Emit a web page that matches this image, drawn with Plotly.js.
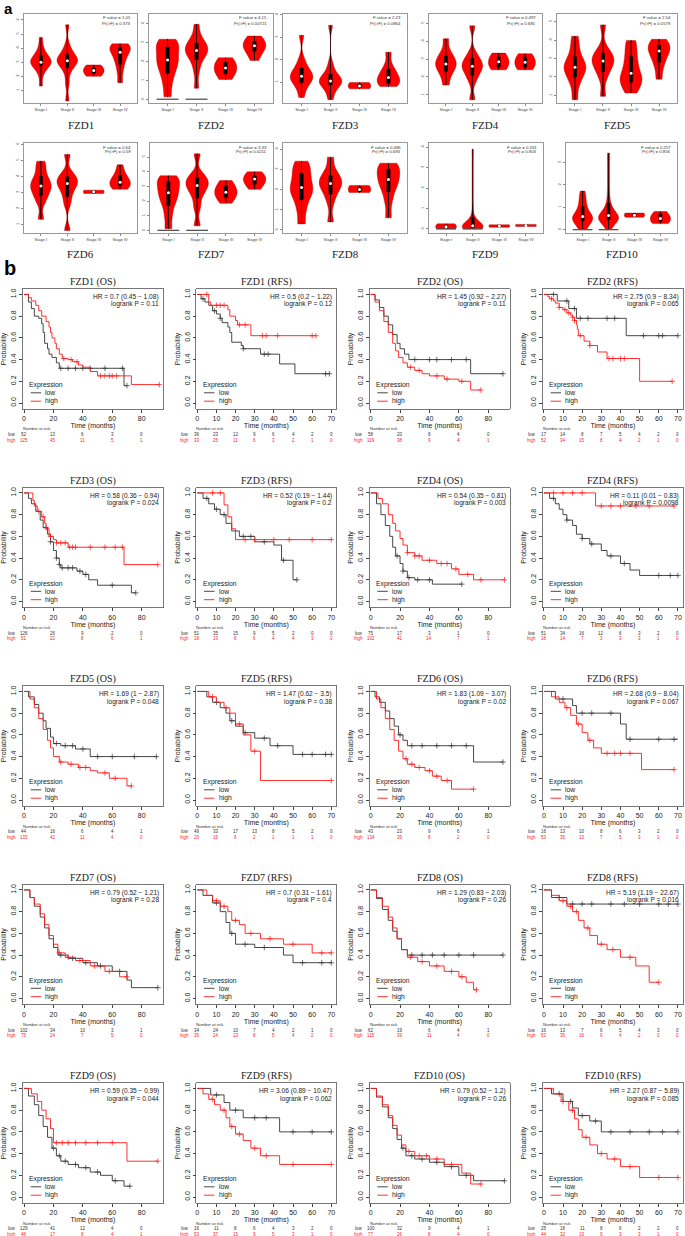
<!DOCTYPE html>
<html><head><meta charset="utf-8">
<script src="https://cdn.plot.ly/plotly-3.0.1.min.js"></script>
<style>html,body{margin:0;padding:0;background:#fff}#chart{width:685px;height:1236px}</style>
</head><body><div id="chart"></div>
<script>
// ---------------- Panel a: violin data ----------------
const stageLabels = ['Stage I','Stage II','Stage III','Stage IV'];
const vioGenes = ['FZD1','FZD2','FZD3','FZD4','FZD5','FZD6','FZD7','FZD8','FZD9','FZD10'];
const vioF = ['1.05','4.15','2.23','0.497','2.54','0.64','3.33','0.486','0.331','0.257'];
const vioP = ['0.373','0.00721','0.0864','0.685','0.0579','0.59','0.0211','0.693','0.803','0.856'];
const vioTicks = [[1,2,3,4,5,6],[0,1,2,3,4],[1,2,3,4],[1,2,3,4,5],[1,2,3,4,5],[1,2,3,4,5,6],[0,1,2,3,4,5],[0,1,2,3,4],[0,1,2,3,4],[0,1,2,3]];
const vioZeroStages = [[],[1,2],[],[],[],[],[1,2],[],[1,2],[1,2]];
const fzd1Vio = [[1.3,2.2,2.6,2.8,2.9,3.0,3.0,3.1,3.2,3.4,3.6,4.0,4.76],[0.25,1.5,2.3,2.7,2.9,3.0,3.1,3.2,3.3,3.5,3.7,4.2,5.65],[2.0,2.2,2.35,2.45,2.6,2.8],[1.54,2.4,3.0,3.3,3.7,3.9,4.0,4.15,4.3]];
const fzd2Vio = [[0.13,0.8,1.3,1.6,1.9,2.08,2.3,2.6,2.83,3.0,3.18],[0.58,1.5,2.05,2.3,2.5,2.58,2.7,2.85,3.0,3.3,3.97],[1.05,1.3,1.5,1.65,1.8,2.0,2.2],[2.05,2.5,2.7,2.83,2.95,3.1,3.35]];
const fzd3Vio = [[0.32,0.75,0.94,1.1,1.2,1.26,1.35,1.5,1.67,2.0,3.08],[0.22,0.6,0.85,0.95,1.0,1.05,1.12,1.25,1.4,1.8,3.53],[0.7,0.78,0.83,0.88,0.98],[0.8,0.9,1.0,1.15,1.26,1.45,1.7,2.33]];
const fzd4Vio = [[1.55,2.1,2.4,2.6,2.73,2.9,3.1,3.4,4.13],[0.73,1.8,2.2,2.45,2.6,2.75,2.95,3.3,4.85],[2.4,2.6,2.85,3.05,3.33],[2.4,2.6,2.82,3.05,3.3]];
const fzd5Vio = [[0.77,1.6,2.0,2.3,2.46,2.6,2.8,3.1,3.6,4.2],[0.95,2.0,2.4,2.7,2.86,3.0,3.2,3.5,4.82],[1.13,1.5,1.8,1.93,2.2,2.6,3.0,3.5,3.98],[1.88,2.6,3.0,3.3,3.5,3.65,3.8,4.04]];
const fzd6Vio = [[1.32,2.4,2.8,3.1,3.31,3.5,3.7,4.0,4.5,4.95],[0.62,2.3,2.9,3.3,3.56,3.7,3.9,4.2,5.37],[2.93,3.0,3.07,3.14],[3.2,3.35,3.5,3.56,3.7,3.9,4.2,4.72]];
const fzd7Vio = [[0.11,1.0,1.7,2.1,2.43,2.7,3.0,3.3,3.5,3.73],[0.31,1.6,2.4,2.8,3.06,3.3,3.5,3.8,5.22],[1.85,2.2,2.45,2.6,2.8,3.1,3.4],[2.8,3.1,3.3,3.5,3.6,3.75,4.0]];
const fzd8Vio = [[0.3,1.0,1.5,1.8,2.0,2.2,2.5,2.8,3.1,3.4],[0.4,1.4,1.9,2.1,2.3,2.45,2.6,2.9,3.6],[1.85,1.95,2.05,2.2],[0.6,1.4,1.9,2.2,2.4,2.6,2.8,3.0,3.2,3.3]];
const fzd9Vio = [[0.0,0.04,0.07,0.09,0.1,0.12,0.15,0.2,0.25],[0,0,0.01,0.02,0.03,0.04,0.05,0.05,0.06,0.07,0.08,0.08,0.09,0.1,0.1,0.11,0.12,0.13,0.14,0.15,0.16,0.18,0.2,0.22,0.25,0.28,0.32,0.38,0.45,0.6,0.8,1.2,1.6,2.0,2.4,2.8,3.2,3.6,3.9],[0.08,0.11,0.14,0.17,0.2],[0.12,0.15,0.17,0.2,0.22]];
const fzd10Vio = [[0.0,0.15,0.25,0.35,0.42,0.48,0.52,0.56,0.62,0.7,0.8,0.95,1.1,1.3,1.5,1.73],[0.0,0.1,0.2,0.25,0.3,0.33,0.36,0.4,0.43,0.46,0.48,0.5,0.52,0.54,0.56,0.58,0.6,0.62,0.65,0.68,0.72,0.76,0.8,0.86,0.92,1.0,1.1,1.25,1.45,1.7,2.0,2.3,2.6,2.9,3.2,3.43],[0.56,0.6,0.65,0.7,0.74],[0.27,0.35,0.44,0.55,0.7,0.81]];
const vioAll = [fzd1Vio,fzd2Vio,fzd3Vio,fzd4Vio,fzd5Vio,fzd6Vio,fzd7Vio,fzd8Vio,fzd9Vio,fzd10Vio];

// ---------------- Panel b: Kaplan-Meier data ----------------
const kmTitles = ['FZD1 (OS)','FZD1 (RFS)','FZD2 (OS)','FZD2 (RFS)','FZD3 (OS)','FZD3 (RFS)','FZD4 (OS)','FZD4 (RFS)','FZD5 (OS)','FZD5 (RFS)','FZD6 (OS)','FZD6 (RFS)','FZD7 (OS)','FZD7 (RFS)','FZD8 (OS)','FZD8 (RFS)','FZD9 (OS)','FZD9 (RFS)','FZD10 (OS)','FZD10 (RFS)'];
const kmHR = ['0.7 (0.45 \u2212 1.08)','0.5 (0.2 \u2212 1.22)','1.45 (0.92 \u2212 2.27)','2.75 (0.9 \u2212 8.34)','0.58 (0.36 \u2212 0.94)','0.52 (0.19 \u2212 1.44)','0.54 (0.35 \u2212 0.81)','0.11 (0.01 \u2212 0.83)','1.69 (1 \u2212 2.87)','1.47 (0.62 \u2212 3.5)','1.83 (1.09 \u2212 3.07)','2.68 (0.9 \u2212 8.04)','0.79 (0.52 \u2212 1.21)','0.7 (0.31 \u2212 1.61)','1.29 (0.83 \u2212 2.03)','5.19 (1.19 \u2212 22.67)','0.59 (0.35 \u2212 0.99)','3.06 (0.89 \u2212 10.47)','0.79 (0.52 \u2212 1.2)','2.27 (0.87 \u2212 5.89)'];
const kmLogrankP = ['0.11','0.12','0.11','0.065','0.024','0.2','0.003','0.0098','0.048','0.38','0.02','0.067','0.28','0.4','0.26','0.016','0.044','0.062','0.26','0.085'];
const osTimes = [0,20,40,60,80];
const rfsTimes = [0,10,20,30,40,50,60,70];
const riskLow = [[52,13,6,3,0],[36,23,12,9,6,4,2,0],[58,20,8,4,0],[17,14,8,7,5,4,2,0],[126,26,9,2,0],[51,35,15,9,5,2,0,0],[75,17,3,1,0],[51,34,16,12,6,3,2,0],[44,16,6,4,1],[49,33,17,13,8,5,2,0],[43,23,9,6,1],[16,13,10,8,6,3,2,0],[102,34,10,3,1],[34,24,10,7,4,2,1,0],[62,19,6,4,1],[16,13,7,6,5,4,3,0],[129,41,12,4,0],[16,11,8,6,4,3,2,0],[100,32,9,4,1],[25,18,11,8,6,2,2,0]];
const riskHigh = [[125,45,11,5,1],[33,25,11,6,3,2,1,0],[119,38,9,4,1],[52,34,15,8,4,2,1,0],[51,22,8,6,1],[18,13,8,6,4,4,3,0],[102,41,14,7,1],[18,14,7,3,3,3,1,0],[133,42,11,4,0],[20,15,6,2,1,1,1,0],[134,35,8,2,0],[53,35,13,7,5,3,1,0],[75,24,7,5,0],[35,24,13,8,5,4,2,0],[115,39,11,4,0],[53,35,16,9,4,2,0,0],[48,17,8,4,1],[53,37,15,9,5,3,1,0],[77,26,8,4,0],[44,32,13,9,3,3,1,0]];
const lowT = [
 [0,3,5,7,10,12,13,14,16,17,19,22,24,68,70],
 [0,2,4,6,8,10,12,13,16,17,18,23,24,33,43,51,69],
 [0,3,6,9,12,15,18,20,23,26,68,90],
 [0,7,13,17,43,70],
 [0,3,5,8,11,13,16,18,20,22,24,25,36,40,44,50,73,76],
 [0,3,6,9,12,15,18,22,30,40,44,50,52],
 [0,4,7,10,13,15,17,20,22,25,30,42,62],
 [0,3,6,8,10,12,15,17,20,24,30,33,40,45,50,70],
 [0,3,7,10,13,15,18,20,25,35,45,90],
 [0,5,8,12,15,17,20,24,30,38,50,70],
 [0,3,6,10,13,16,19,22,25,70,90],
 [0,6,15,17,40,43,70],
 [0,4,7,11,14,17,20,23,30,40,50,60,70,73,91],
 [0,3,8,12,15,17,20,30,45,50,70],
 [0,4,8,12,15,18,21,25,90],
 [0,4,12,70],
 [0,3,7,10,13,16,19,22,25,30,37,45,52,60,68,72],
 [0,7,14,17,24,43,70],
 [0,4,8,12,15,18,21,24,30,40,50,60,70,91],
 [0,4,10,15,18,24,30,70]];
const lowS = [
 [1,.93,.87,.80,.78,.73,.65,.55,.50,.45,.42,.37,.32,.16,.16],
 [1,.96,.93,.9,.85,.82,.78,.74,.7,.65,.56,.53,.5,.45,.36,.27,.27],
 [1,.95,.88,.8,.72,.63,.55,.5,.45,.4,.27,.27],
 [1,.94,.87,.78,.62,.62],
 [1,.95,.9,.83,.75,.68,.62,.55,.47,.4,.34,.31,.28,.25,.2,.15,.08,.08],
 [1,.95,.9,.85,.8,.72,.65,.6,.55,.52,.38,.2,.2],
 [1,.9,.8,.7,.6,.5,.42,.35,.28,.22,.2,.16,.16],
 [1,.95,.9,.85,.8,.75,.7,.62,.58,.53,.47,.42,.35,.29,.24,.24],
 [1,.95,.88,.8,.73,.66,.58,.52,.5,.47,.4,.4],
 [1,.95,.9,.85,.8,.73,.68,.62,.57,.5,.42,.42],
 [1,.95,.9,.82,.75,.68,.6,.55,.5,.35,.35],
 [1,.93,.87,.8,.7,.56,.56],
 [1,.93,.85,.75,.65,.55,.47,.4,.37,.33,.3,.25,.17,.1,.1],
 [1,.95,.88,.8,.7,.6,.5,.47,.4,.33,.33],
 [1,.92,.82,.72,.62,.55,.45,.4,.4],
 [1,.93,.87,.87],
 [1,.93,.85,.75,.65,.55,.45,.38,.33,.3,.27,.23,.2,.15,.1,.1],
 [1,.94,.87,.8,.73,.6,.6],
 [1,.92,.83,.73,.63,.53,.45,.38,.35,.32,.28,.2,.15,.15],
 [1,.95,.88,.82,.75,.7,.6,.6]];
const highT = [
 [0,3,5,8,10,12,15,17,18,19,21,22,24,26,30,33,37,40,45,50,73,92],
 [0,6,7,9,16,17,20,21,28,62],
 [0,3,6,9,12,15,17,19,22,25,30,35,40,50,60,68,75],
 [0,2,3,5,6,8,10,12,14,15,16,17,17.5,18,21,24,28,33,50,67],
 [0,6,7,9,12,14,15,17,20,22,30,68,91],
 [0,14,16,18,20,70],
 [0,5,8,12,15,17,20,22,25,30,35,45,55,60,70,91],
 [0,27,68],
 [0,4,7,10,13,16,18,20,24,30,37,45,50,58,70,73],
 [0,6,10,14,17,20,24,28,33,70],
 [0,4,7,10,13,16,19,22,25,30,37,42,48,55,70],
 [0,4,8,11,14,17,20,23,26,30,51,68],
 [0,4,7,11,14,17,20,23,28,35,45,55,65,70],
 [0,5,8,12,16,18,22,25,33,45,60,70],
 [0,4,8,12,15,18,21,25,32,40,50,60,65,70,72],
 [0,4,8,12,15,18,21,24,28,33,40,48,55,60],
 [0,5,9,12,15,18,20,70,91],
 [0,3,6,9,12,15,17,20,24,28,33,43,70],
 [0,4,8,12,15,18,21,24,30,40,50,62,68,75],
 [0,5,9,13,16,18,20,24,28,33,40,50,70]];
const highS = [
 [1,.97,.94,.9,.85,.8,.75,.7,.65,.6,.55,.5,.45,.41,.40,.38,.35,.33,.29,.25,.17,.17],
 [1,.93,.9,.9,.86,.8,.76,.72,.62,.62],
 [1,.93,.85,.75,.65,.55,.48,.42,.37,.33,.3,.27,.25,.22,.2,.12,.12],
 [1,.98,.96,.94,.92,.88,.86,.83,.81,.79,.76,.72,.68,.62,.57,.53,.47,.41,.2,.2],
 [1,.93,.88,.83,.78,.72,.67,.6,.57,.54,.5,.34,.34],
 [1,.89,.78,.67,.57,.57],
 [1,.95,.9,.8,.72,.65,.58,.52,.45,.42,.38,.35,.3,.25,.2,.2],
 [1,.88,.88],
 [1,.93,.85,.75,.65,.55,.48,.4,.35,.33,.3,.27,.25,.2,.13,.13],
 [1,.95,.9,.85,.8,.7,.6,.45,.18,.18],
 [1,.93,.85,.75,.65,.55,.45,.38,.33,.3,.27,.22,.18,.1,.1],
 [1,.95,.9,.85,.78,.7,.62,.55,.48,.43,.28,.28],
 [1,.93,.87,.78,.68,.58,.5,.42,.38,.35,.3,.25,.2,.2],
 [1,.95,.9,.85,.8,.72,.68,.6,.55,.5,.42,.42],
 [1,.93,.85,.75,.65,.55,.45,.38,.34,.3,.25,.2,.15,.08,.08],
 [1,.95,.9,.85,.8,.72,.65,.58,.5,.45,.38,.3,.15,.15],
 [1,.95,.88,.8,.72,.63,.5,.33,.33],
 [1,.95,.9,.85,.8,.73,.65,.58,.52,.45,.38,.3,.3],
 [1,.93,.85,.75,.66,.57,.48,.42,.38,.35,.3,.22,.12,.12],
 [1,.95,.88,.8,.72,.62,.55,.48,.4,.35,.28,.18,.18]];
const censLow = [[25,30,35,40,45,55,67,70],[3,9,12,24,35,37,67,69],[30,40,45,55,65,90],[5,12,16,19,23,33,37,52,60,62,70],[15,18,22,24,26,30,33,38,42,60,76],[5,10,14,24,28,35,45,52],[18,22,26,32,40,62],[5,12,20,25,35,42,60,66,70],[22,28,33,40,50,60,75,90],[10,18,25,35,42,55,60,67,70],[20,28,35,45,55,65,90],[10,20,25,35,45,60,68],[25,33,42,52,65,91],[10,18,25,35,55,65,70],[28,35,42,50,60,70,90],[8,15,20,25,35,42,50,60,65,70],[20,24,28,35,42,50,62,72],[10,20,30,36,50,60,70],[22,28,35,45,55,65,91],[8,14,20,27,35,45,55,62,70]];
const censHigh = [[27,32,36,52,55,58,60,63,92],[5,10,12,14,22,25,34,36,42,60,62],[27,33,45,52,62,75],[4,8,11,13,15,16,19,24,34,36,40,42,67],[10,13,18,22,25,28,31,33,35,45,55,62,67,91],[8,12,25,30,40,48,60,70],[25,30,33,40,48,52,58,66,75,91],[5,10,15,20,30,35,40,48,55,68],[25,32,38,42,55,62,73],[8,15,22,30,70],[24,28,33,40,45,52,70],[12,18,24,33,37,40,45,68],[24,30,38,48,58,70],[10,14,20,28,38,50,65,70],[27,35,45,55,62,72],[10,14,17,23,30,36,45,60],[22,26,30,35,42,50,60,91],[8,14,18,22,30,36,50,70],[26,33,38,45,55,75],[10,15,22,30,37,45,60,70]];

// ---------------- Build ----------------
const W = 685, H = 1236;
const px = v => v / W;
const py = v => 1 - v / H;
const SANS = 'Liberation Sans, Arial, sans-serif';
const SERIF = 'Liberation Serif, Times New Roman, serif';
const traces = [], annotations = [], shapes = [], layout = {};

function ann(o) {
  const base = {showarrow: false, font: {family: SANS, size: 7, color: '#222'}};
  if (o.font) o.font = Object.assign({}, base.font, o.font);
  annotations.push(Object.assign(base, o));
}
function stepAt(T, S, t) { let v = S[0]; for (let j = 0; j < T.length; j++) { if (T[j] <= t) v = S[j]; else break; } return v; }

const vioBoxes = [[24,137,14,103],[149,273,14,103],[283,407,14,103],[429,542,14,103],[557,677,14,103],
                  [24,137,143,233],[150,273,143,233],[283,407,143,233],[429,543,143,233],[566,677,143,233]];
const vioRanges = [[0.1,6.42],[-0.2,4.52],[0.07,4.03],[0.55,5.51],[0.59,5.41],[0.47,6.08],[-0.18,5.96],[-0.15,4.3],[-0.2,4.2],[-0.15,3.88]];
const vioBw = [0.38,0.35,0.25,0.32,0.38,0.35,0.4,0.33,0.22,0.2];

vioGenes.forEach((g, i) => {
  const k = i + 1, b = vioBoxes[i];
  const xa = 'x' + k, ya = 'y' + k;
  layout['xaxis' + k] = {domain: [px(b[0]), px(b[1])], anchor: ya, range: [0.36, 4.64], tickvals: [1,2,3,4], ticktext: stageLabels,
    tickfont: {family: SANS, size: 4, color: '#444'}, ticks: 'outside', ticklen: 2, tickcolor: '#888', showline: true, mirror: true,
    linecolor: '#999', linewidth: 1, showgrid: false, zeroline: false, fixedrange: true};
  layout['yaxis' + k] = {domain: [py(b[3]), py(b[2])], anchor: xa, range: vioRanges[i], tickvals: vioTicks[i], tickangle: -90,
    tickfont: {family: SANS, size: 4, color: '#444'}, ticks: 'outside', ticklen: 2, tickcolor: '#888', showline: true, mirror: true,
    linecolor: '#999', linewidth: 1, showgrid: false, zeroline: false, fixedrange: true};
  const wx = [], wy = [], mx = [], my = [];
  vioAll[i].forEach((samples, s) => {
    traces.push({type: 'violin', x0: s + 1, y: samples, xaxis: xa, yaxis: ya, width: 0.78, spanmode: 'hard', bandwidth: vioBw[i],
      scalemode: 'width', fillcolor: '#ff0000', line: {color: '#9a0000', width: 0.4}, points: false,
      box: {visible: true, width: 0.15, fillcolor: '#000', line: {color: '#000', width: 0.5}}, meanline: {visible: false},
      showlegend: false, hoverinfo: 'skip', opacity: 1});
    const sorted = samples.slice().sort((a, b) => a - b);
    wx.push(s + 1, s + 1, null); wy.push(sorted[0], sorted[sorted.length - 1], null);
    const n = sorted.length;
    mx.push(s + 1); my.push(n % 2 ? sorted[(n - 1) / 2] : (sorted[n / 2 - 1] + sorted[n / 2]) / 2);
  });
  traces.push({type: 'scatter', mode: 'lines', x: wx, y: wy, xaxis: xa, yaxis: ya, line: {color: '#000', width: 0.7}, showlegend: false, hoverinfo: 'skip'});
  const zx = [], zy = [];
  vioZeroStages[i].forEach(s => { zx.push(s - 0.38, s + 0.38, null); zy.push(0, 0, null); });
  if (zx.length) traces.push({type: 'scatter', mode: 'lines', x: zx, y: zy, xaxis: xa, yaxis: ya, line: {color: '#555', width: 1.3}, showlegend: false, hoverinfo: 'skip'});
  traces.push({type: 'scatter', mode: 'markers', x: mx, y: my, xaxis: xa, yaxis: ya, marker: {color: '#fff', size: 3}, showlegend: false, hoverinfo: 'skip'});
  ann({xref: 'paper', yref: 'paper', x: px(b[1] - 4), y: py(b[2] + 4), xanchor: 'right', yanchor: 'middle', text: 'F value = ' + vioF[i], font: {size: 4.3, color: '#333'}});
  ann({xref: 'paper', yref: 'paper', x: px(b[1] - 4), y: py(b[2] + 9), xanchor: 'right', yanchor: 'middle', text: 'Pr(>F) = ' + vioP[i], font: {size: 4.3, color: '#333'}});
  ann({xref: 'paper', yref: 'paper', x: px((b[0] + b[1]) / 2), y: py(i < 5 ? 125 : 254), xanchor: 'center', yanchor: 'middle', text: g, font: {family: SERIF, size: 11, color: '#222'}});
});

const rowStep = 198.5;
kmTitles.forEach((title, i) => {
  const k = 11 + i, c = i % 4, r = Math.floor(i / 4);
  const x0 = 23 + 173.3 * c, x1 = x0 + 140, y0 = 289 + rowStep * r, y1 = y0 + 120;
  const isOS = i % 2 === 0;
  const xa = 'x' + k, ya = 'y' + k;
  layout['xaxis' + k] = {domain: [px(x0), px(x1)], anchor: ya, range: isOS ? [-0.7, 94.5] : [-0.5, 72.6], tick0: 0, dtick: isOS ? 20 : 10,
    tickfont: {family: SANS, size: 7, color: '#222'}, ticks: 'outside', ticklen: 3, tickcolor: '#444', showline: true, mirror: true,
    linecolor: '#555', linewidth: 0.8, showgrid: false, zeroline: false, fixedrange: true,
    title: {text: 'Time (months)', font: {family: SANS, size: 7, color: '#222'}, standoff: 1}};
  layout['yaxis' + k] = {domain: [py(y1), py(y0)], anchor: xa, range: [-0.055, 1.05], tickvals: [0,0.2,0.4,0.6,0.8,1],
    ticktext: ['0.0','0.2','0.4','0.6','0.8','1.0'], tickangle: -90,
    tickfont: {family: SANS, size: 7, color: '#222'}, ticks: 'outside', ticklen: 3, tickcolor: '#444', showline: true, mirror: true,
    linecolor: '#555', linewidth: 0.8, showgrid: false, zeroline: false, fixedrange: true,
    title: {text: 'Probability', font: {family: SANS, size: 7, color: '#222'}, standoff: 2}};
  const groups = [[lowT[i], lowS[i], censLow[i], '#333'], [highT[i], highS[i], censHigh[i], '#ff1a1a']];
  groups.forEach(([T, S, C, col]) => {
    traces.push({type: 'scatter', mode: 'lines', x: T, y: S, xaxis: xa, yaxis: ya, line: {shape: 'hv', color: col, width: 0.9}, showlegend: false, hoverinfo: 'skip'});
    traces.push({type: 'scatter', mode: 'markers', x: C, y: C.map(t => stepAt(T, S, t)), xaxis: xa, yaxis: ya,
      marker: {symbol: 'cross-thin-open', size: 4, color: col, line: {color: col, width: 0.7}}, showlegend: false, hoverinfo: 'skip'});
  });
  ann({xref: xa + ' domain', yref: 'paper', x: 0.5, y: py(y0 - 7), xanchor: 'center', yanchor: 'middle', text: title, font: {family: SERIF, size: 10, color: '#222'}});
  ann({xref: xa + ' domain', yref: 'paper', x: 0.985, y: py(y0 + 8), xanchor: 'right', yanchor: 'middle', text: 'HR = ' + kmHR[i], font: {size: 6.6}});
  ann({xref: xa + ' domain', yref: 'paper', x: 0.985, y: py(y0 + 15.5), xanchor: 'right', yanchor: 'middle', text: 'logrank P = ' + kmLogrankP[i], font: {size: 6.6}});
  ann({xref: xa + ' domain', yref: ya + ' domain', x: 0.03, y: 0.2, xanchor: 'left', yanchor: 'middle', text: 'Expression', font: {size: 6.8}});
  ann({xref: xa + ' domain', yref: ya + ' domain', x: 0.145, y: 0.135, xanchor: 'left', yanchor: 'middle', text: 'low', font: {size: 6.8}});
  ann({xref: xa + ' domain', yref: ya + ' domain', x: 0.145, y: 0.065, xanchor: 'left', yanchor: 'middle', text: 'high', font: {size: 6.8}});
  shapes.push({type: 'line', xref: xa + ' domain', yref: ya + ' domain', x0: 0.055, x1: 0.13, y0: 0.135, y1: 0.135, line: {color: '#333', width: 0.9}});
  shapes.push({type: 'line', xref: xa + ' domain', yref: ya + ' domain', x0: 0.055, x1: 0.13, y0: 0.065, y1: 0.065, line: {color: '#ff1a1a', width: 0.9}});
  const times = isOS ? osTimes : rfsTimes;
  const tb = 434.5 + rowStep * r;
  ann({xref: xa + ' domain', yref: 'paper', x: 0.1, y: py(tb - 5.5), xanchor: 'center', yanchor: 'middle', text: 'Number at risk', font: {size: 4.2, color: '#333'}});
  ann({xref: xa + ' domain', yref: 'paper', x: -0.035, y: py(tb), xanchor: 'right', yanchor: 'middle', text: 'low', font: {size: 4.5, color: '#333'}});
  ann({xref: xa + ' domain', yref: 'paper', x: -0.035, y: py(tb + 5.5), xanchor: 'right', yanchor: 'middle', text: 'high', font: {size: 4.5, color: '#ff1a1a'}});
  times.forEach((t, j) => {
    ann({xref: xa, yref: 'paper', x: t, y: py(tb), xanchor: 'center', yanchor: 'middle', text: String(riskLow[i][j]), font: {size: 4.5, color: '#333'}});
    ann({xref: xa, yref: 'paper', x: t, y: py(tb + 5.5), xanchor: 'center', yanchor: 'middle', text: String(riskHigh[i][j]), font: {size: 4.5, color: '#ff1a1a'}});
  });
});

ann({xref: 'paper', yref: 'paper', x: px(2), y: py(9), xanchor: 'left', yanchor: 'middle', text: '<b>a</b>', font: {size: 15, color: '#000'}});
ann({xref: 'paper', yref: 'paper', x: px(2), y: py(268), xanchor: 'left', yanchor: 'middle', text: '<b>b</b>', font: {size: 20, color: '#000'}});

Object.assign(layout, {width: W, height: H, margin: {l: 0, r: 0, t: 0, b: 0}, paper_bgcolor: '#fff', plot_bgcolor: '#fff',
  showlegend: false, violinmode: 'overlay', annotations: annotations, shapes: shapes, font: {family: SANS}});
Plotly.newPlot('chart', traces, layout, {staticPlot: true, displayModeBar: false});
</script></body></html>
